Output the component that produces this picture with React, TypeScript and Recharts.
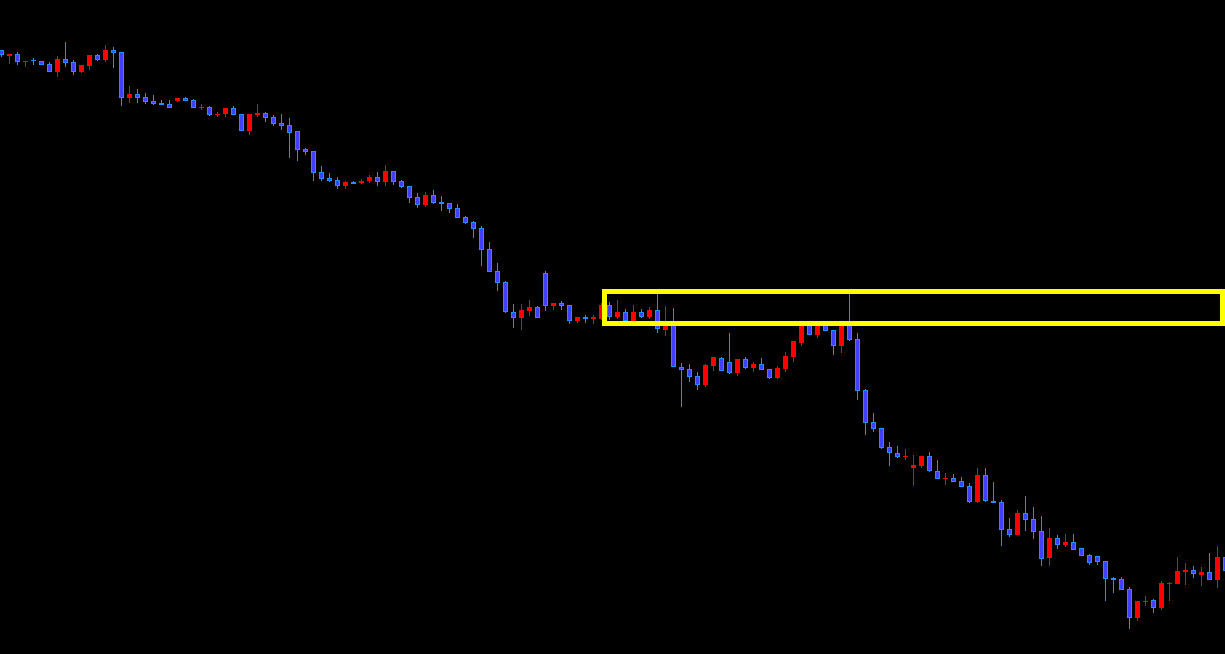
import { Bar, ComposedChart, ReferenceArea, XAxis, YAxis } from "recharts";

// candle values (price units, higher = up)
const opens = [
  604, 598, 600, 592, 594, 593, 590, 582, 595, 592, 582, 588, 599, 594, 604, 602, 556, 560, 557, 553,
  551, 550, 553, 556, 554, 546, 547, 539, 540, 546, 540, 523, 539, 541, 537, 531, 529, 523, 505, 503,
  482, 476, 474, 468, 472, 471, 473, 477, 472, 483, 473, 468, 457, 449, 459, 452, 451, 446, 437, 432,
  426, 405, 383, 372, 342, 336, 343, 347, 381, 348, 351, 349, 333, 337, 335, 335, 349, 337, 342, 333,
  342, 337, 344, 324, 333, 287, 285, 278, 269, 288, 296, 292, 281, 295, 286, 290, 285, 276, 285, 297,
  311, 331, 319, 330, 324, 308, 330, 315, 264, 232, 226, 207, 201, 197, 186, 188, 198, 183, 175, 176,
  173, 168, 152, 179, 153, 152, 125, 119, 141, 135, 123, 96, 116, 109, 112, 106, 99, 98, 93, 76,
  75, 65, 36, 52, 54, 46, 70, 70, 82, 84, 79, 82, 74, 97,
];
const highs = [
  604, 600, 602, 593, 596, 593, 592, 598, 612, 594, 589, 599, 600, 609, 607, 602, 568, 565, 561, 559,
  554, 554, 556, 557, 555, 550, 548, 542, 546, 548, 540, 540, 550, 542, 539, 540, 536, 523, 506, 503,
  488, 481, 477, 473, 473, 475, 479, 482, 489, 483, 474, 468, 461, 462, 464, 458, 451, 450, 438, 433,
  428, 412, 391, 373, 350, 350, 354, 348, 383, 351, 353, 349, 337, 339, 339, 351, 352, 354, 345, 349,
  345, 347, 362, 348, 346, 291, 290, 282, 290, 297, 297, 321, 295, 297, 292, 296, 285, 288, 302, 313,
  332, 333, 332, 332, 324, 332, 362, 321, 265, 241, 226, 212, 208, 205, 199, 198, 202, 194, 181, 180,
  177, 171, 186, 186, 172, 154, 136, 144, 158, 147, 138, 126, 119, 120, 120, 106, 100, 98, 93, 77,
  77, 67, 53, 58, 55, 73, 72, 97, 91, 88, 87, 101, 108, 99,
];
const lows = [
  597, 590, 589, 587, 589, 589, 582, 577, 587, 579, 581, 584, 593, 592, 586, 548, 551, 551, 550, 549,
  549, 546, 552, 553, 546, 544, 538, 537, 537, 539, 523, 519, 537, 532, 528, 524, 496, 493, 499, 473,
  473, 472, 465, 465, 470, 470, 471, 468, 468, 469, 466, 451, 446, 447, 450, 443, 441, 436, 430, 416,
  388, 382, 363, 341, 326, 324, 338, 336, 343, 344, 344, 330, 331, 331, 330, 334, 334, 335, 332, 332,
  336, 335, 321, 318, 287, 247, 272, 264, 267, 283, 283, 280, 278, 285, 282, 284, 275, 275, 282, 292,
  308, 319, 316, 323, 299, 301, 313, 254, 219, 222, 205, 188, 196, 194, 168, 186, 182, 175, 169, 172,
  167, 151, 151, 152, 151, 108, 117, 119, 123, 115, 88, 88, 105, 107, 104, 98, 89, 89, 53, 61,
  64, 25, 33, 48, 41, 44, 53, 70, 69, 76, 68, 74, 66, 83,
];
const closes = [
  599, 600, 592, 593, 593, 589, 582, 595, 591, 582, 589, 599, 594, 604, 601, 556, 560, 556, 552, 550,
  549, 546, 556, 553, 546, 547, 539, 540, 546, 539, 523, 540, 541, 536, 530, 528, 521, 504, 502, 481,
  475, 473, 468, 472, 470, 473, 477, 472, 483, 472, 467, 456, 449, 459, 451, 450, 445, 436, 431, 425,
  404, 382, 371, 342, 336, 344, 347, 336, 348, 351, 348, 333, 337, 335, 337, 349, 337, 342, 333, 342,
  337, 344, 325, 333, 287, 284, 277, 269, 289, 297, 283, 281, 295, 286, 290, 284, 276, 286, 298, 313,
  330, 319, 330, 323, 308, 330, 314, 263, 231, 225, 206, 201, 197, 198, 189, 198, 183, 175, 176, 172,
  167, 152, 179, 153, 151, 124, 119, 141, 134, 122, 95, 116, 109, 112, 104, 98, 91, 92, 75, 74,
  64, 36, 53, 53, 46, 71, 71, 83, 84, 80, 82, 74, 97, 83,
];

// zone drawn by the analyst (in candle index / price units)
const zoneFrom = 75.375;
const zoneTo = 152.625;
const zoneLow = 330.5;
const zoneHigh = 362.5;

const data = opens.map((o, i) => ({
  i,
  o,
  h: highs[i],
  l: lows[i],
  c: closes[i],
  range: [lows[i], highs[i]],
}));

const UP = "#ff0000";
const DOWN_EDGE = "#1e90ff";
const DOWN_FILL = "#4040ff";

function Candle(props: any) {
  const { x, y, width, height, payload } = props;
  if (x == null || y == null) return null;
  const { o, h, l, c } = payload;
  const top = Math.min(y, y + height);
  const bottom = Math.max(y, y + height);
  const ppu = h > l ? (bottom - top) / (h - l) : 0;
  const yOf = (v: number) => top + (h - v) * ppu;
  const cx = Math.floor(x + width / 2) + 0.5;
  const bull = c > o;
  const edge = bull ? UP : DOWN_EDGE;
  const fill = bull ? UP : DOWN_FILL;
  const bTop = Math.round(yOf(Math.max(o, c)));
  const bBot = Math.round(yOf(Math.min(o, c)));
  const bh = bBot - bTop;
  return (
    <g>
      <line x1={cx} x2={cx} y1={Math.round(top)} y2={Math.round(bottom)} stroke={edge} strokeWidth={1} />
      {bh < 2 ? (
        <line x1={cx - 2.5} x2={cx + 2.5} y1={bTop + 0.5} y2={bTop + 0.5} stroke={edge} strokeWidth={1} />
      ) : (
        <rect x={cx - 2} y={bTop + 0.5} width={4} height={bh - 1} fill={fill} stroke={edge} strokeWidth={1} />
      )}
    </g>
  );
}

export default function App() {
  return (
    <div
      style={{
        position: "fixed",
        left: 0,
        top: 0,
        width: 1225,
        height: 654,
        background: "#000000",
        overflow: "hidden",
      }}
    >
      <ComposedChart
        width={1225}
        height={654}
        data={data}
        margin={{ top: 0, right: 0, bottom: 0, left: 0 }}
      >
        <XAxis
          type="number"
          dataKey="i"
          domain={[-0.1875, 152.9375]}
          allowDataOverflow
          hide
        />
        <YAxis type="number" domain={[0, 654]} allowDataOverflow hide />
        <Bar dataKey="range" barSize={5} shape={<Candle />} isAnimationActive={false} />
        {/* yellow box sits on top of the candles */}
        <ReferenceArea
          x1={zoneFrom}
          x2={zoneTo}
          y1={zoneLow}
          y2={zoneHigh}
          fill="none"
          fillOpacity={0}
          stroke="#ffff00"
          strokeWidth={5}
          ifOverflow="visible"
          zIndex={1000}
        />
      </ComposedChart>
    </div>
  );
}
